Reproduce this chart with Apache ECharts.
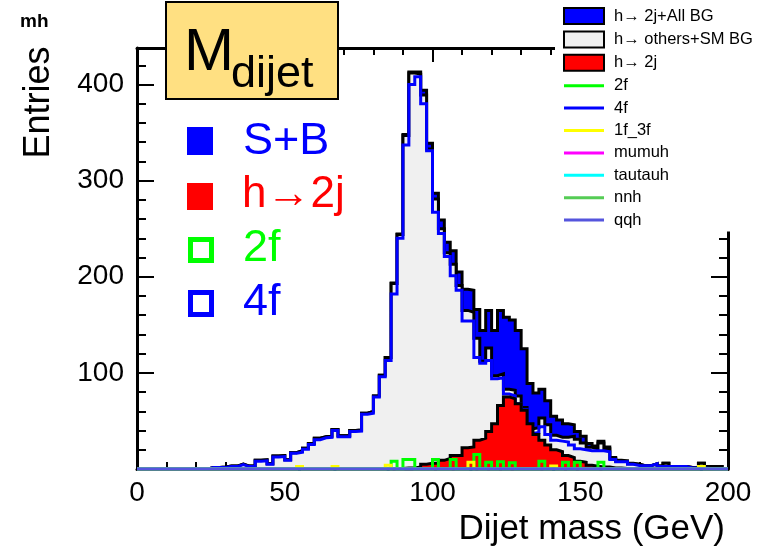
<!DOCTYPE html>
<html><head><meta charset="utf-8">
<script src="https://cdn.jsdelivr.net/npm/echarts@6/dist/echarts.min.js"></script>
<style>html,body{margin:0;padding:0;background:#fff}#c{width:771px;height:551px}</style>
</head><body><div id="c"></div>
<script>
// ---- binning (x axis: Dijet mass in GeV) ----
const X_MIN = 0, X_MAX = 200, BIN_W = 2;
const xTickInterval = 50;
const yMax = 438, yTickInterval = 100, yMinorInterval = 20;

// ---- series values, one entry per 2 GeV bin (0-2, 2-4, ..., 198-200) ----
const othersSMBG = [ // h-> others + SM BG
  0,0,0,0,0,0,0,0,0,0,
  0,0,1.5,1.5,2,3,3,5,3,3,
  9,9.5,5.5,13.5,14,9.5,17,19,21.5,26.5,
  32,33.5,34,41,34.5,34.5,40,40.5,58,60,
  76,97.5,116,193,244,347,412,411,389,333,
  281,250,225,213,191,165,163,136,112,126,
  97,99,83,82,76,64,42,43,53,46,
  35,33,33,34,31,27,22.5,21,27,21,
  11,8,8,5.5,5,3.5,3.5,5.4,3,6,
  2.6,2.6,2.6,1.5,1.5,6,2.6,2.6,2.6,0.5
];
const h2j = [ // h -> 2j signal
  0,0,0,0,0,0,0,0,0,0,
  0,0,0,0,0,0,0,0,0,0,
  0,0,0,0,0,0,0,0,0,0,
  0,0,0,0,0,0,0,0,0,0,
  0,0,0,0.5,0.5,1,1,2,5,6,
  6,9,11,14,14,22,23,30,32,39,
  47,66,75,73,68,61,47,36,30,25,
  20,18,14,12,8,7,4,3,2,2,
  1,1,0.5,0.5,0,0,0,0,0,0,
  0,0,0,0,0,0,0,0,0,0
];
const f4 = [
  0,0,0,0,0,0,0,0,0,0,
  0,0,1.5,1.5,1.5,2.5,2.5,4.5,2.5,2.6,
  8,8.5,5,12.5,13,9,16.5,17.5,20.5,25.5,
  30.5,32.5,33,40,33.5,33.5,39,39.5,57,58,
  75,96,113,182,240,337,400,408,380,331,
  267,245,221,201,186,154,154,116,110,113,
  94,95,78,76,68,62,37,38,44,36,
  30,29,28,25,21,20,19,19,19,18,
  10,7.5,7.5,5,3.6,3.5,3.5,5.4,2.6,2.6,
  2.6,2.6,2.6,1,1,1,0.5,0,0,0
];
const f2 = [
  0,0,0,0,0,0,0,0,0,0,
  0,0,0,0,0,0,0,0,0,0,
  0,0,0,0,0,0,0,0,0,0,
  0,0,0,0,0,0,0,0,0,0,
  0,0,0,8,0,10,10,0,0,0,
  10,0,0,10,0,0,0,15,0,7,
  0,7.5,0,6.5,0,0,0,0,8,0,
  0,0,7,0,7,0,0,0,7,0,
  0,0,0,0,0,0,0,0,0,0,
  0,0,0,0,0,0,0,0,0,0
];
const f1f3 = [
  0,0,0,0,0,0,0,0,0,0,
  0,0,0,0,0,0,0,0,0,0,
  0,0,0,0,0,0,0,2.5,0,0,
  0,0,0,2.5,0,0,0,0,0,0,
  0,0,4,0,0,0,0,0,0,0,
  0,0,0,0,0,0,7,0,0,0,
  0,0,0,0,0,0,0,0,0,0,
  3,0,0,0,0,0,0,0,0,0,
  0,0,0,0,0,0,0,0,0,0,
  0,0,0,0,0,2.5,0,0,0,0
];
const mumuh = [
  0,0,0,0,0,0,0,0,0,0, 0,0,0,0,0,0,0,0,0,0, 0,0,0,0,0,0,0,0,0,0, 0,0,0,0,0,0,0,0,0,0, 0,0,0,0,0,0,0,0,0,0,
  0,0,0,0,0,0,0,0,0,0, 0,0,0,0,0,0,0,0,0,0, 0,0,0,0,0,0,0,0,0,0, 0,0,0,0,0,0,0,0,0,0, 0,0,0,0,0,0,0,0,0,0
];
const tautauh = [
  0,0,0,0,0,0,0,0,0,0, 0,0,0,0,0,0,0,0,0,0, 0,0,0,0,0,0,0,0,0,0, 0,0,0,0,0,0,0,0,0,0, 0,0,0,0,0,0,0,0,0,0,
  0,0,0,0,0,0,0,0,0,0, 0,0,0,0,0,0,0,0,0,0, 0,0,0,0,0,0,0,0,0,0, 0,0,0,0,0,0,0,0,0,0, 0,0,0,0,0,0,0,0,0,0
];
const nnh = [
  0,0,0,0,0,0,0,0,0,0, 0,0,0,0,0,0,0,0,0,0, 0,0,0,0,0,0,0,0,0,0, 0,0,0,0,0,0,0,0,0,0, 0,0,0,0,0,0,0,0,0,0,
  0,0,0,0,0,0,0,0,0,0, 0,0,0,0,0,0,0,0,0,0, 0,0,0,0,0,0,0,0,0,0, 0,0,0,0,0,0,0,0,0,0, 0,0,0,0,0,0,0,0,0,0
];
const qqh = [
  0,0,0,0,0,0,0,0,0,0, 0,0,0,0,0,0,0,0,0,0, 0,0,0,0,0,0,0,0,0,0, 0,0,0,0,0,0,0,0,0,0, 0,0,0,0,0,0,0,0,0,0,
  0,0,0,0,0,0,0,0,0,0, 0,0,0,0,0,0,0,0,0,0, 0,0,0,0,0,0,0,0,0,0, 0,0,0,0,0,0,0,0,0,0, 0,0,0,0,0,0,0,0,0,0
];

const legendNames = ['h\u2192 2j+All BG','h\u2192 others+SM BG','h\u2192 2j','2f','4f','1f_3f','mumuh','tautauh','nnh','qqh'];

const FONT = "'Liberation Sans', Arial, Helvetica, sans-serif";

// S+B histogram = h->2j + all backgrounds (bin-by-bin sum of the two arrays above)
const sPlusB = othersSMBG.map((v, i) => v + h2j[i]);

// histogram bins -> flat-topped segments [lowEdge, v], [highEdge, v]
function toSteps(vals){
  const pts = [];
  for (let i = 0; i < vals.length; i++) {
    pts.push([X_MIN + i*BIN_W, vals[i]]);
    pts.push([X_MIN + (i+1)*BIN_W, vals[i]]);
  }
  return pts;
}
function hist(name, vals, color, z, extra){
  return Object.assign({
    name, type:'line', data: toSteps(vals), symbol:'none', showSymbol:false,
    lineStyle:{color, width:3, join:'miter'}, itemStyle:{color}, z, silent:true, animation:false,
    emphasis:{disabled:true}
  }, extra||{});
}

const axisBlack = {color:'#000', width:3};
function xAx(pos, labels){
  return {type:'value', position:pos, min:X_MIN, max:X_MAX, interval:xTickInterval,
    axisLine:{show:true, onZero:false, lineStyle:axisBlack},
    axisTick:{show:true, inside:true, length:14, lineStyle:{color:'#000', width:2}},
    minorTick:{show:true, splitNumber:5, length:7, lineStyle:{color:'#000', width:2}},
    splitLine:{show:false}, minorSplitLine:{show:false},
    axisLabel:{show:labels, fontFamily:FONT, fontSize:28, color:'#000', margin:10}};
}
function yAx(pos, interval, len, line, labels){
  return {type:'value', position:pos, min:0, max:yMax, interval,
    axisLine:{show:line, onZero:false, lineStyle:axisBlack},
    axisTick:{show:true, inside:true, length:len, lineStyle:{color:'#000', width:2}},
    splitLine:{show:false},
    axisLabel:{show:labels, fontFamily:FONT, fontSize:28, color:'#000', margin:13, showMinLabel:false, showMaxLabel:false}};
}
const lineIcon = 'path://M0,0H40V3H0Z';

const chart = echarts.init(document.getElementById('c'), null, {renderer:'canvas'});
chart.setOption({
  backgroundColor:'#fff',
  animation:false,
  grid:{left:137, right:43, top:48, bottom:82, containLabel:false},
  xAxis:[xAx('bottom', true), xAx('top', false)],
  yAxis:[yAx('left',yTickInterval,17,true,true), yAx('left',yMinorInterval,9,false,false),
         yAx('right',yTickInterval,17,true,false), yAx('right',yMinorInterval,9,false,false)],
  legend:{orient:'vertical', left:555, top:0, right:0, width:200, padding:[7,10,3,8],
    backgroundColor:'#fff', z:20,
    itemWidth:40, itemHeight:16, itemGap:5.4, symbolKeepAspect:true,
    selectedMode:false,
    textStyle:{fontFamily:FONT, fontSize:16.5, color:'#000', lineHeight:16, padding:[0,0,0,5]},
    data:[
      {name:legendNames[0], icon:'rect', itemStyle:{color:'#0000ff', borderColor:'#000', borderWidth:2}},
      {name:legendNames[1], icon:'rect', itemStyle:{color:'#f0f0f0', borderColor:'#000', borderWidth:2}},
      {name:legendNames[2], icon:'rect', itemStyle:{color:'#ff0000', borderColor:'#000', borderWidth:2}},
      {name:legendNames[3], icon:lineIcon},
      {name:legendNames[4], icon:lineIcon},
      {name:legendNames[5], icon:lineIcon},
      {name:legendNames[6], icon:lineIcon},
      {name:legendNames[7], icon:lineIcon},
      {name:legendNames[8], icon:lineIcon},
      {name:legendNames[9], icon:lineIcon}
    ]},
  series:[
    hist(legendNames[0], sPlusB, '#000', 3, {areaStyle:{color:'#0000ff', opacity:1}, itemStyle:{color:'#0000ff'}}),
    hist(legendNames[1], othersSMBG, '#000', 4, {areaStyle:{color:'#f0f0f0', opacity:1}, itemStyle:{color:'#f0f0f0'}}),
    hist(legendNames[4], f4, '#0000ff', 5),
    hist(legendNames[2], h2j, '#000', 6, {areaStyle:{color:'#ff0000', opacity:1}, itemStyle:{color:'#ff0000'}}),
    hist(legendNames[3], f2, '#00ff00', 7),
    hist(legendNames[5], f1f3, '#ffff00', 7),
    hist(legendNames[6], mumuh, '#ff00ff', 7),
    hist(legendNames[7], tautauh, '#00ffff', 7),
    hist(legendNames[8], nnh, '#55cc55', 7),
    hist(legendNames[9], qqh, '#5555dd', 7)
  ],
  graphic:[
    {type:'rect', shape:{x:166, y:2, width:172, height:97}, style:{fill:'#ffe082', stroke:'#000', lineWidth:2}, z:100},
    {type:'text', x:184, y:53.5, z:101, style:{text:'M', fontFamily:FONT, fontSize:60, fill:'#000', align:'left', verticalAlign:'middle'}},
    {type:'text', x:231, y:74.5, z:101, style:{text:'dijet', fontFamily:FONT, fontSize:45, fill:'#000', align:'left', verticalAlign:'middle'}},
    {type:'text', x:20, y:22, z:101, style:{text:'mh', fontFamily:FONT, fontWeight:'bold', fontSize:19, fill:'#000', align:'left', verticalAlign:'middle'}},
    {type:'rect', shape:{x:187, y:127, width:26, height:28}, style:{fill:'#0000ff'}, z:100},
    {type:'text', x:243, y:142, z:101, style:{text:'S+B', fontFamily:FONT, fontSize:45, fill:'#0000ff', align:'left', verticalAlign:'middle'}},
    {type:'rect', shape:{x:187, y:183, width:26, height:27}, style:{fill:'#ff0000'}, z:100},
    {type:'text', x:242, y:195, z:101, style:{text:'h\u21922j', fontFamily:FONT, fontSize:44, fill:'#ff0000', align:'left', verticalAlign:'middle'}},
    {type:'rect', shape:{x:190.5, y:239.5, width:21, height:21}, style:{fill:'none', stroke:'#00ff00', lineWidth:5}, z:100},
    {type:'text', x:243, y:248.5, z:101, style:{text:'2f', fontFamily:FONT, fontSize:45, fill:'#00ff00', align:'left', verticalAlign:'middle'}},
    {type:'rect', shape:{x:190.5, y:292.5, width:21, height:22}, style:{fill:'none', stroke:'#0000ff', lineWidth:5}, z:100},
    {type:'text', x:243, y:302.5, z:101, style:{text:'4f', fontFamily:FONT, fontSize:45, fill:'#0000ff', align:'left', verticalAlign:'middle'}},
    {type:'text', x:39.5, y:102.5, rotation:Math.PI/2, z:101, style:{text:'Entries', fontFamily:FONT, fontSize:36, fill:'#000', align:'center', verticalAlign:'middle'}},
    {type:'text', x:725, y:529, z:101, style:{text:'Dijet mass (GeV)', fontFamily:FONT, fontSize:35, fill:'#000', align:'right', verticalAlign:'middle'}}
  ]
});
</script></body></html>
